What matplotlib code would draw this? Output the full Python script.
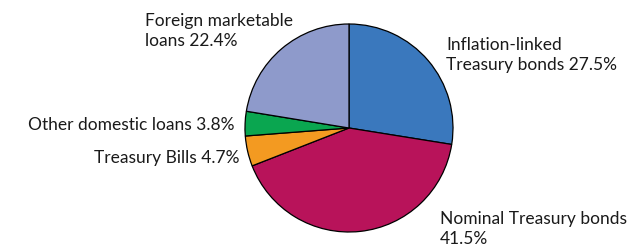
import matplotlib as mpl
mpl.use('Agg')
import matplotlib.pyplot as plt

labels = ["Inflation-linked\nTreasury bonds 27.5%", "Nominal Treasury bonds\n41.5%",
          "Treasury Bills 4.7%", "Other domestic loans 3.8%", "Foreign marketable\nloans 22.4%"]
shares = [27.5, 41.5, 4.7, 3.8, 22.4]
colors = ["#3a78bd", "#b8135a", "#f39a21", "#0aa650", "#8e9acb"]

plt.rcParams['font.family'] = ['Lato', 'DejaVu Sans']

W, H = 630, 248
fig = plt.figure(figsize=(W / 100, H / 100), dpi=100)

# pie centre and radius in pixels
cx, cy, r = 349, 128, 104
ax = fig.add_axes([(cx - r) / W, (H - cy - r) / H, 2 * r / W, 2 * r / H])
ax.pie(shares, colors=colors, startangle=90, counterclock=False,
       wedgeprops=dict(edgecolor='black', linewidth=0.9))
ax.set_xlim(-1, 1)
ax.set_ylim(-1, 1)
ax.set_aspect('equal')
ax.axis('off')

# label positions (pixels: x, y of anchor), alignment
pos = [(446, 55, 'left'), (440, 229, 'left'), (240, 158, 'right'),
       (235, 125, 'right'), (145, 31, 'left')]
for lab, (x, y, ha) in zip(labels, pos):
    fig.text(x / W, 1 - y / H, lab, ha=ha, va='center', fontsize=12.5,
             color='#1a1a1a', linespacing=1.3)

plt.savefig('out.png', dpi=100)
